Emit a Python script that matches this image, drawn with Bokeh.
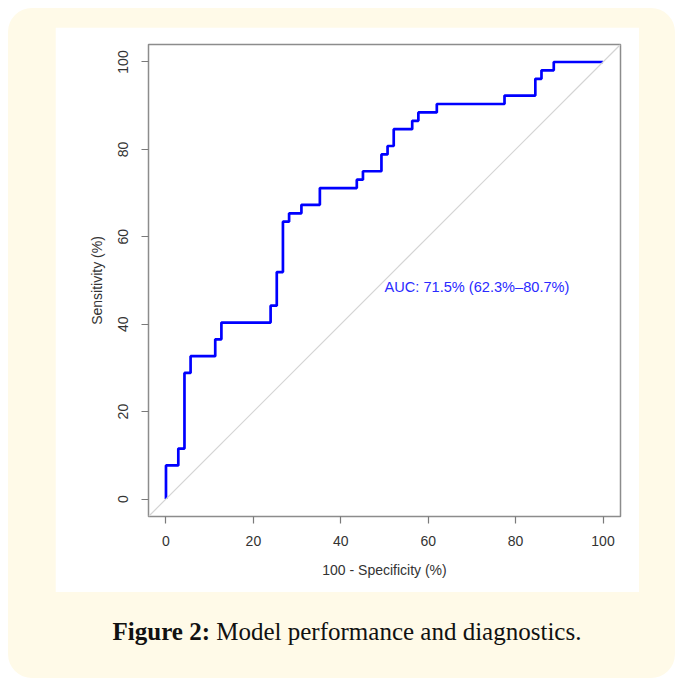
from bokeh.plotting import figure
from bokeh.models import Range1d, FixedTicker, Slope, Label, Div, Column
from bokeh.embed import file_html
from bokeh.resources import INLINE

# ROC curve corner points (100 - specificity, sensitivity), in %
fpr = [0, 0, 2.82, 4.23, 5.63, 11.27, 12.68, 23.94, 25.35, 26.76, 28.17, 30.99, 35.21,
       43.66, 45.07, 49.30, 50.70, 52.11, 56.34, 57.75, 61.97, 77.46, 84.51, 85.92, 88.73, 100]
tpr = [0, 7.69, 11.54, 28.85, 32.69, 36.54, 40.38, 44.23, 51.92, 63.46, 65.38, 67.31, 71.15,
       73.08, 75.0, 78.85, 80.77, 84.62, 86.54, 88.46, 90.38, 92.31, 96.15, 98.08, 100, 100]
ticks = [0, 20, 40, 60, 80, 100]
auc_text = "AUC: 71.5% (62.3%\u201380.7%)"
caption_bold = "Figure 2:"
caption_rest = "Model performance and diagnostics."

FONT = "Liberation Sans"
FS = "14px"
CREAM = "#fffae8"

p = figure(width=584, height=565, output_backend="svg", toolbar_location=None,
           x_range=Range1d(-4, 104), y_range=Range1d(-4, 104),
           min_border_left=93, min_border_right=19, min_border_top=17, min_border_bottom=76,
           background_fill_color="white", border_fill_color="white",
           margin=(19, 36, 0, 47))
p.grid.visible = False
p.outline_line_color = "#8c8c8c"
p.outline_line_width = 1.5

for ax in (p.xaxis[0], p.yaxis[0]):
    ax.ticker = FixedTicker(ticks=ticks)
    ax.axis_line_color = None
    ax.major_tick_line_color = "#7a7a7a"
    ax.major_tick_line_width = 1.2
    ax.major_tick_in = 0
    ax.major_tick_out = 7
    ax.minor_tick_line_color = None
    ax.major_label_text_font = FONT
    ax.major_label_text_font_size = FS
    ax.major_label_text_color = "#333333"
    ax.axis_label_text_font = FONT
    ax.axis_label_text_font_size = FS
    ax.axis_label_text_font_style = "normal"
    ax.axis_label_text_color = "#333333"

p.xaxis.axis_label = "100 - Specificity (%)"
p.yaxis.axis_label = "Sensitivity (%)"
p.xaxis.major_label_standoff = 12
p.xaxis.axis_label_standoff = 13
p.yaxis.major_label_standoff = 13
p.yaxis.major_label_orientation = "vertical"
p.yaxis.axis_label_standoff = 11

p.add_layout(Slope(gradient=1, y_intercept=0, line_color="#d4d4d4", line_width=1.2))
p.step(x=fpr, y=tpr, mode="after", line_color="#0000ff", line_width=2.7)

p.add_layout(Label(x=50, y=48.5, text=auc_text, text_font=FONT, text_font_size="14.6px",
                   text_color="#2a2aff", text_baseline="middle", text_align="left"))

cap = Div(text=f"<b>{caption_bold}</b> {caption_rest}", width=584,
          margin=(25, 36, 0, 47),
          styles={"font-family": "Liberation Serif", "font-size": "25px",
                  "text-align": "center", "color": "#111111", "line-height": "1.2"})

layout = Column(children=[p, cap], width=667, height=670, margin=(8, 0, 0, 8),
                styles={"background-color": CREAM, "border-radius": "24px"})

open("out.html", "w").write(file_html(layout, INLINE))
